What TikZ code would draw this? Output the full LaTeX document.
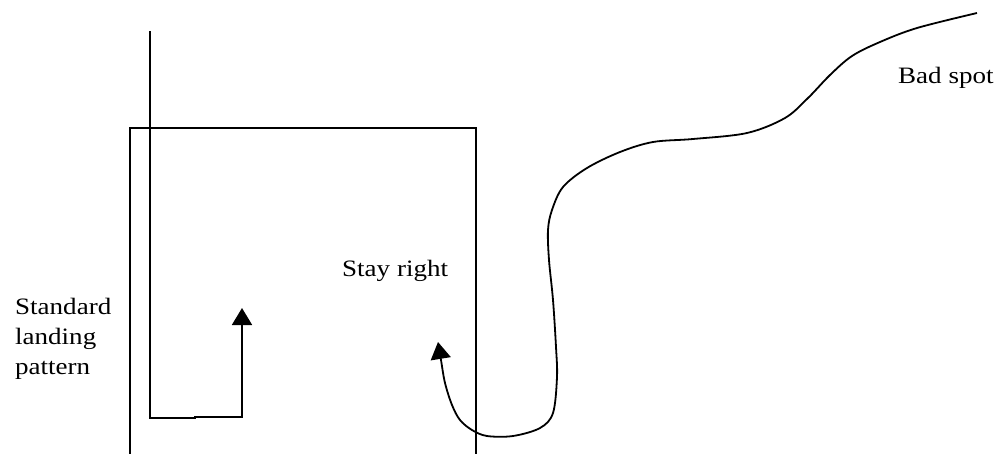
\documentclass[tikz,border=0pt]{standalone}
\usepackage{fontspec}
\newfontfamily\lblfont[FakeStretch=1.15]{Liberation Serif}
\usetikzlibrary{arrows.meta}
\begin{document}
\begin{tikzpicture}[x=1pt,y=-1pt,
  line/.style={line width=1.8pt, black, line join=miter},
  tip/.style={-{Triangle[length=17pt,width=20pt]}},
  lbl/.style={font=\lblfont\fontsize{23.5}{30}\selectfont, inner sep=0pt}]
\useasboundingbox (0,0) rectangle (1002,453);
\clip (0,0) rectangle (1002,453);
% field rectangle (open at the bottom, runs off the picture)
\coordinate (rbl) at (130,460);
\coordinate (rtl) at (130,128);
\coordinate (rtr) at (476,128);
\coordinate (rbr) at (476,460);
\draw[line] (rbl) -- (rtl) -- (rtr) -- (rbr);
% standard landing pattern
\coordinate (s0) at (150,31);
\coordinate (s1) at (150,418);
\coordinate (s2) at (195,418);
\coordinate (s3) at (195,417);
\coordinate (s4) at (242,417);
\coordinate (s5) at (242,308);
\draw[line,tip] (s0) -- (s1) -- (s2) -- (s3) -- (s4) -- (s5);
% path from the bad spot
\draw[line,tip] plot[smooth, tension=0.55] coordinates {
  (977,13) (917,28) (880,42) (852,56) (830,75) (808,98) (785,118)
  (747,133) (693,139) (653,142) (620,152) (587,168) (563,187)
  (552,210) (548,230) (549,260) (553,300) (556,347) (557,377)
  (553,413) (540,428) (513,436) (487,436) (472,430) (460,420)
  (452,405) (445,383) (441,360) (438,342)};
% labels
\node[lbl, anchor=base west] (stay) at (342,276) {Stay right};
\node[lbl, anchor=base west] (bad) at (898,83) {Bad spot};
\node[lbl, anchor=north west, align=left] (std) at (15,298) {Standard\\landing\\pattern};
\end{tikzpicture}
\end{document}
